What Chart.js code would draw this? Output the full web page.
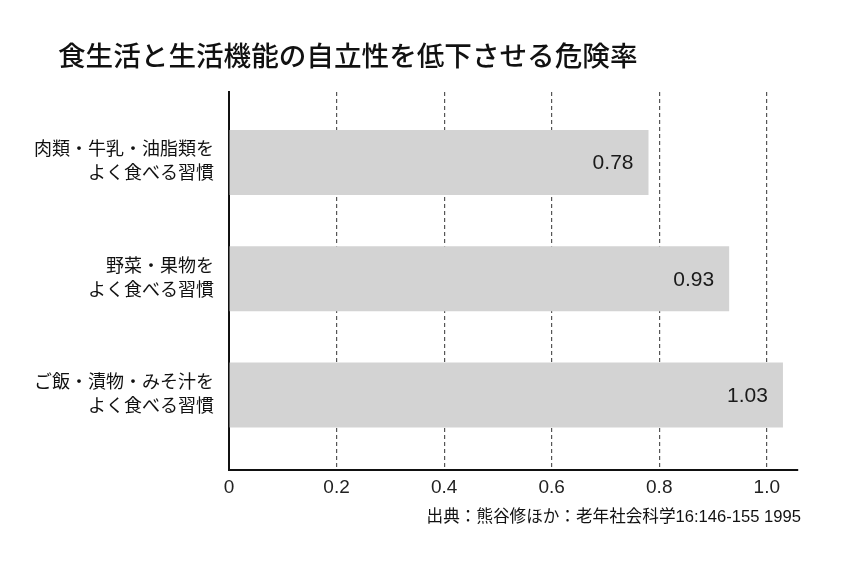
<!DOCTYPE html>
<html>
<head>
<meta charset="utf-8">
<script src="https://cdn.jsdelivr.net/npm/chart.js@4.4.0/dist/chart.umd.min.js"></script>
<style>
    html, body { margin: 0; padding: 0; background: #fff; }
</style>
</head>
<body>
<canvas id="canvas" width="846" height="574"></canvas>
<script>
var titleText = '食生活と生活機能の自立性を低下させる危険率';
var sourceText = '出典：熊谷修ほか：老年社会科学16:146-155 1995';
var categories = [
    ['肉類・牛乳・油脂類を', 'よく食べる習慣'],
    ['野菜・果物を', 'よく食べる習慣'],
    ['ご飯・漬物・みそ汁を', 'よく食べる習慣']
];
var values = [0.78, 0.93, 1.03];
var xTicks = [0, 0.2, 0.4, 0.6, 0.8, 1.0];

var latinCjk = '"Liberation Sans", "Noto Sans CJK JP", sans-serif';

// title, source and the numbers inside the bars
var textPlugin = {
    id: 'texts',
    afterDatasetsDraw: function (chart) {
        var ctx = chart.ctx;
        var meta = chart.getDatasetMeta(0);
        ctx.save();
        ctx.fillStyle = '#1a1a1a';
        ctx.font = '21px ' + latinCjk;
        ctx.textAlign = 'right';
        ctx.textBaseline = 'middle';
        meta.data.forEach(function (bar, i) {
            ctx.fillText(values[i].toFixed(2), bar.x - 15, bar.y + 1);
        });
        ctx.restore();
    },
    afterDraw: function (chart) {
        var ctx = chart.ctx;
        ctx.save();
        ctx.fillStyle = '#111';
        ctx.textBaseline = 'middle';
        ctx.textAlign = 'left';
        ctx.font = '500 27.6px "Noto Sans CJK JP", sans-serif';
        ctx.fillText(titleText, 58, 56);
        ctx.textAlign = 'right';
        ctx.font = '16.6px ' + latinCjk;
        ctx.fillText(sourceText, 801, 517);
        ctx.restore();
    }
};

var ctx = document.getElementById('canvas').getContext('2d');
var myChart = new Chart(ctx, {
    type: 'bar',
    data: {
        datasets: [{
            data: values.map(function (v, i) { return {x: v, y: i}; }),
            backgroundColor: '#d3d3d3',
            borderWidth: 0,
            barPercentage: 0.56,
            categoryPercentage: 1
        }]
    },
    options: {
        indexAxis: 'y',
        responsive: false,
        animation: false,
        layout: {padding: {top: 92, right: 48, left: 0, bottom: 0}},
        plugins: {
            legend: {display: false},
            tooltip: {enabled: false}
        },
        scales: {
            x: {
                type: 'linear',
                position: 'bottom',
                min: 0,
                max: 1.058,
                afterBuildTicks: function (axis) {
                    axis.ticks = xTicks.map(function (v) { return {value: v}; });
                },
                afterFit: function (axis) { axis.height = 104; },
                grid: {
                    drawTicks: false,
                    lineWidth: 1.2,
                    color: function (c) {
                        return c.tick && c.tick.value === 0 ? 'rgba(0,0,0,0)' : '#555';
                    }
                },
                border: {display: true, color: '#111', width: 2, dash: [4, 3]},
                ticks: {
                    padding: 6,
                    color: '#222',
                    font: {family: latinCjk, size: 19},
                    callback: function (v) { return v === 0 ? '0' : v.toFixed(1); }
                }
            },
            y: {
                type: 'linear',
                reverse: true,
                offset: false,
                min: -0.606,
                max: 2.645,
                afterBuildTicks: function (axis) {
                    axis.ticks = categories.map(function (c, i) { return {value: i}; });
                },
                afterFit: function (axis) { axis.width = 229; },
                grid: {display: false, offset: false},
                border: {display: true, color: '#111', width: 2},
                ticks: {
                    padding: 7,
                    color: '#111',
                    font: {family: latinCjk, size: 18, lineHeight: 1.33},
                    callback: function (v) { return categories[v]; }
                }
            }
        }
    },
    plugins: [textPlugin]
});
</script>
</body>
</html>
